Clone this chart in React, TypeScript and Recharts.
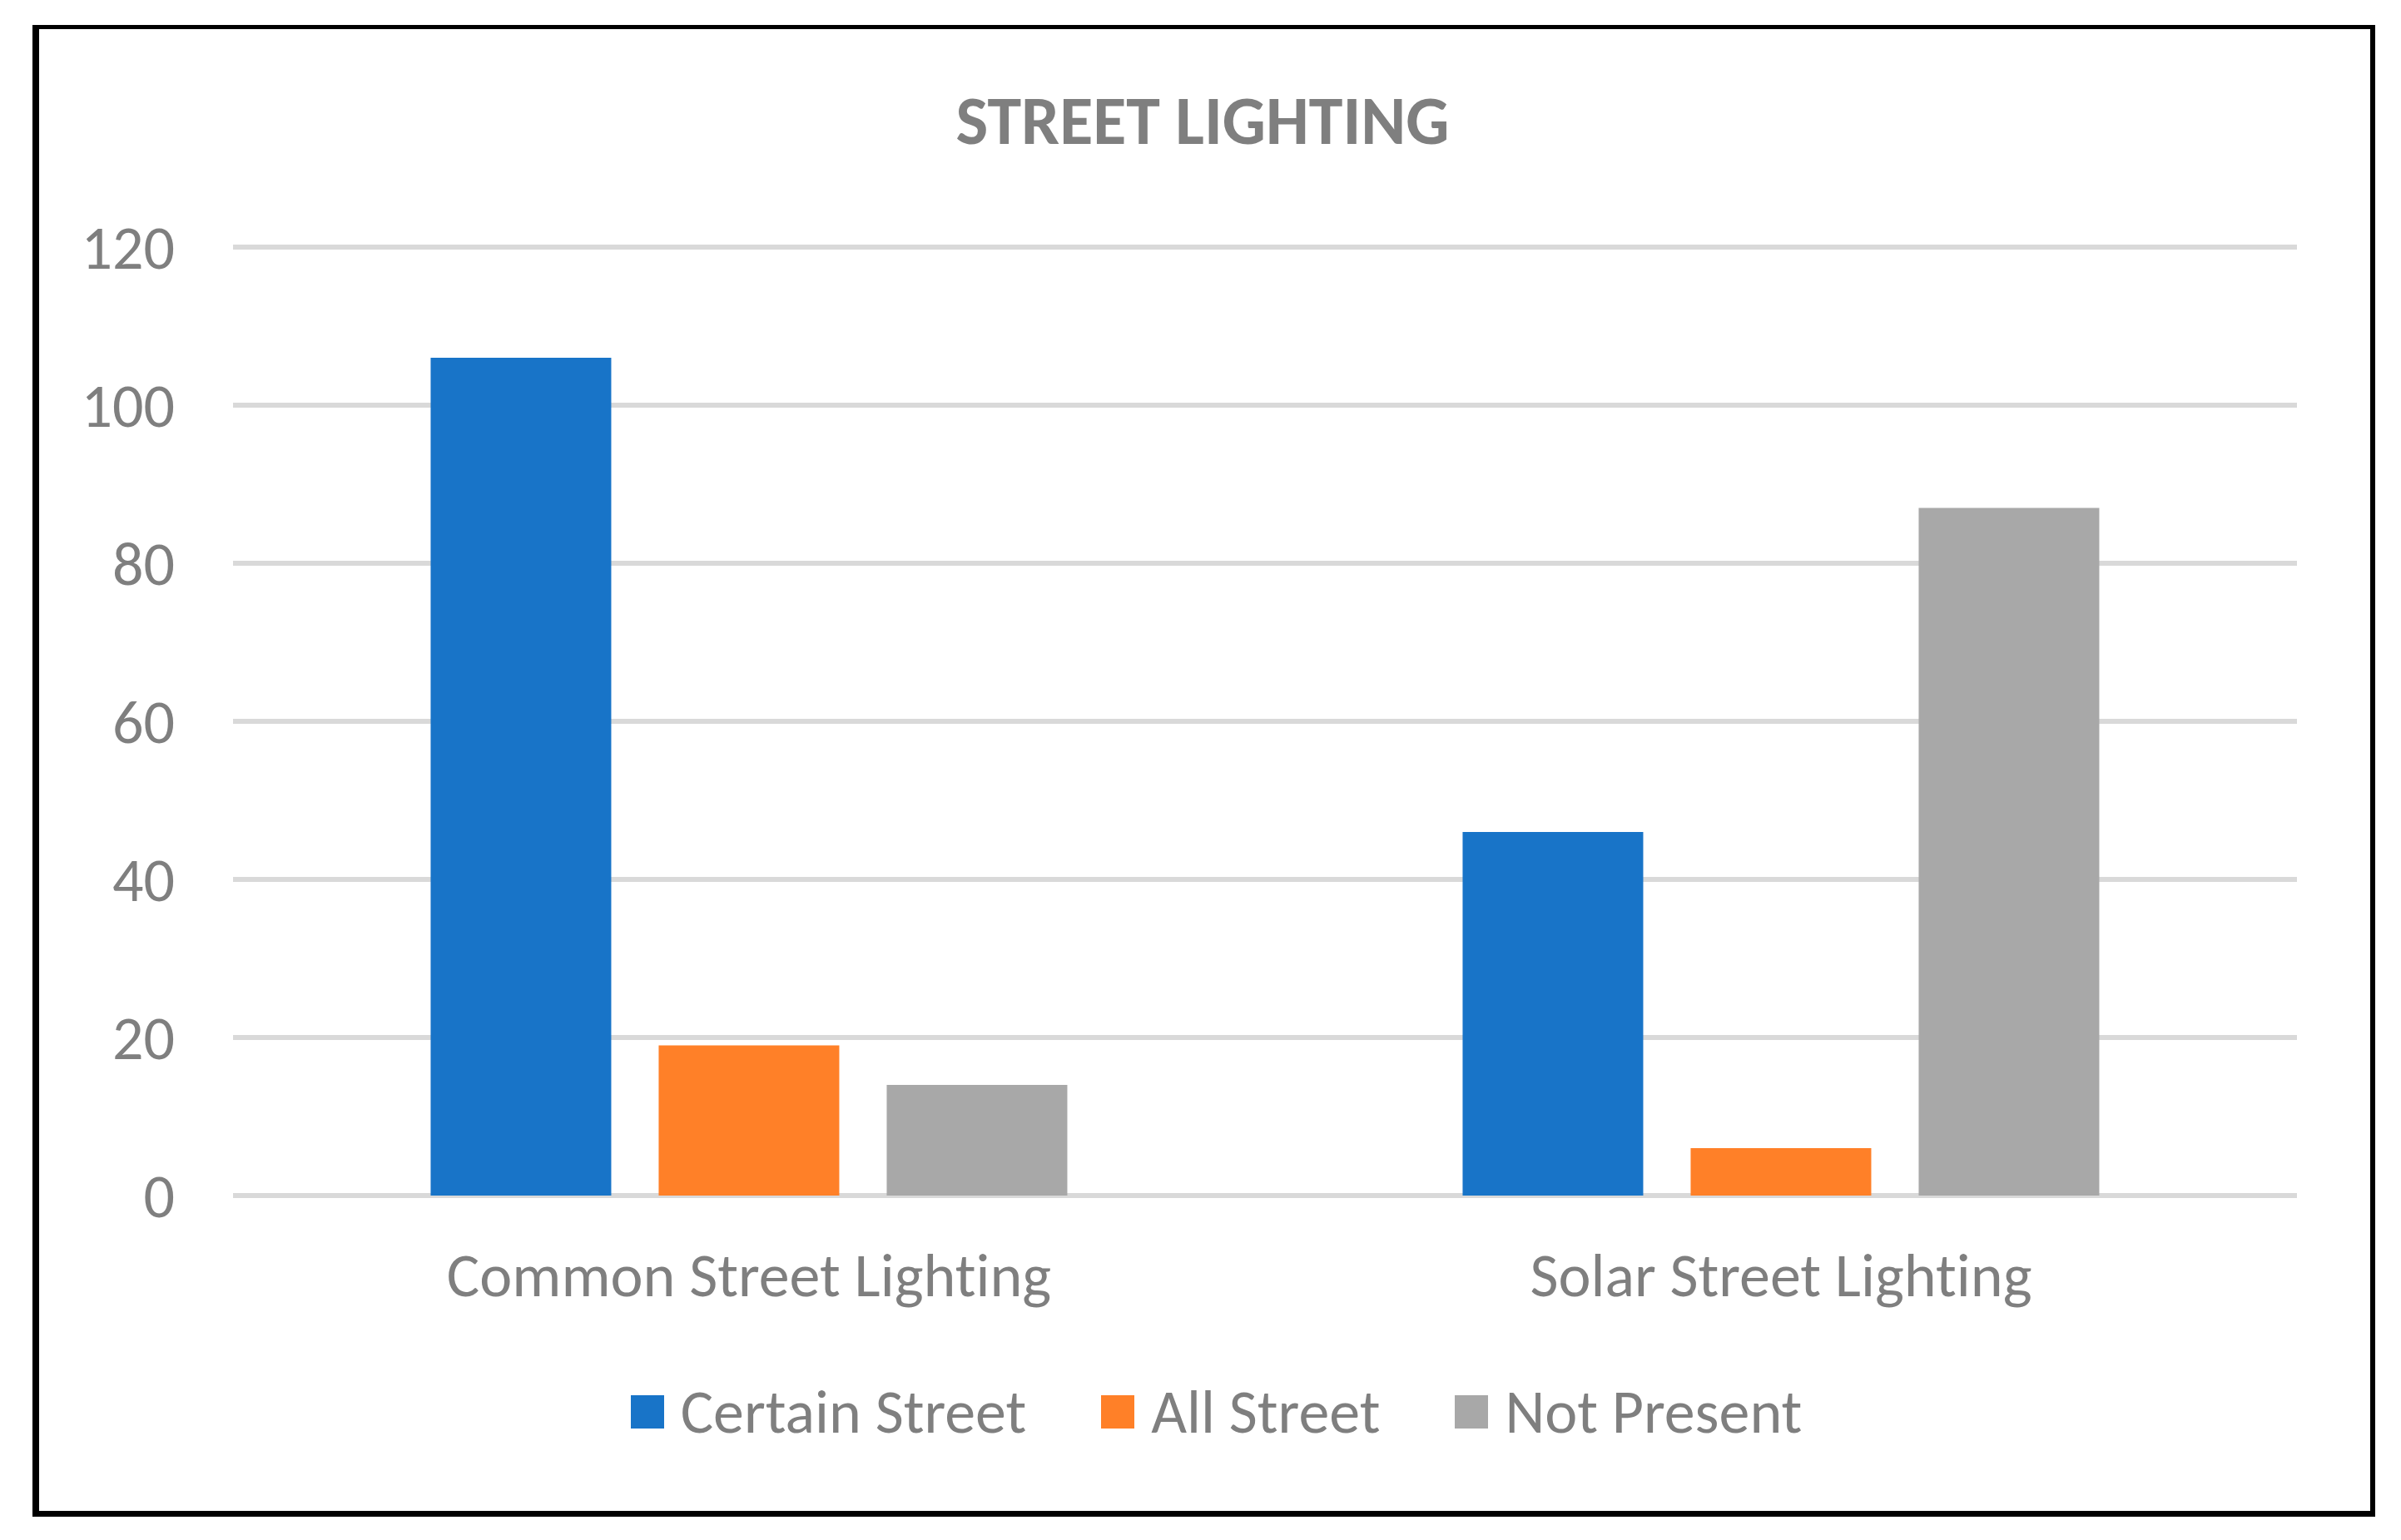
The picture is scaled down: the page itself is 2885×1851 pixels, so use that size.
import React from "react";
import { Bar, BarChart, CartesianGrid, Legend, XAxis, YAxis } from "recharts";

const CATEGORIES = ["Common Street Lighting", "Solar Street Lighting"];
const CERTAIN_STREET = [106, 46];
const ALL_STREET = [19, 6];
const NOT_PRESENT = [14, 87];
const Y_TICKS = [0, 20, 40, 60, 80, 100, 120];

const SERIES = [
	{ key: "certain", name: "Certain Street", color: "#1874C8" },
	{ key: "all", name: "All Street", color: "#FF8028" },
	{ key: "none", name: "Not Present", color: "#A8A8A8" },
];

const data = CATEGORIES.map((name, i) => ({
	name,
	certain: CERTAIN_STREET[i],
	all: ALL_STREET[i],
	none: NOT_PRESENT[i],
}));

const FONT = "Carlito, Lato, 'Open Sans', sans-serif";
const TEXT = "#7F7F7F";
const LABEL_SIZE = 74;
const W = 2885;
const H = 1851;

const CategoryTick = ({ x, y, payload }: any) => (
	<text
		x={x}
		y={y + 121}
		textAnchor="middle"
		fill={TEXT}
		fontSize={LABEL_SIZE}
		fontFamily={FONT}
		style={{ fontVariantLigatures: "none" }}
	>
		{payload.value}
	</text>
);

const LegendContent = () => (
	<div
		style={{
			display: "flex",
			justifyContent: "center",
			alignItems: "center",
			height: 74,
			fontFamily: FONT,
			fontSize: LABEL_SIZE,
			color: TEXT,
			gap: 90,
			paddingLeft: 38,
			fontVariantLigatures: "none",
		}}
	>
		{SERIES.map((s) => (
			<div key={s.key} style={{ display: "flex", alignItems: "center" }}>
				<span
					style={{
						width: 40,
						height: 40,
						background: s.color,
						display: "inline-block",
						marginRight: 20,
					}}
				/>
				<span>{s.name}</span>
			</div>
		))}
	</div>
);

export default function App() {
	return (
		<div
			style={{
				position: "absolute",
				top: 0,
				left: 0,
				width: W,
				height: H,
				background: "#fff",
			}}
		>
			<div
				style={{
					position: "absolute",
					left: 39,
					top: 30,
					width: 2854 - 39,
					height: 1823 - 30,
					boxSizing: "border-box",
					borderStyle: "solid",
					borderColor: "#000",
					borderWidth: "5px 6px 7px 8px",
				}}
			/>
			<svg
				width={W}
				height={200}
				style={{ position: "absolute", top: 0, left: 0 }}
			>
				<text
					x={1445}
					y={173}
					textAnchor="middle"
					fill={TEXT}
					fontSize={82}
					fontWeight="bold"
					fontFamily={FONT}
				>
					STREET LIGHTING
				</text>
			</svg>
			<div style={{ position: "absolute", top: 0, left: 0 }}>
				<BarChart
					width={W}
					height={H}
					data={data}
					margin={{ top: 297, right: 125, bottom: 314, left: 80 }}
					barCategoryGap="19.15%"
					barGap={57}
				>
					<CartesianGrid
						vertical={false}
						stroke="#D9D9D9"
						strokeWidth={6}
					/>
					<XAxis
						dataKey="name"
						axisLine={false}
						tickLine={false}
						tickSize={0}
						tickMargin={0}
						height={100}
						tick={<CategoryTick />}
					/>
					<YAxis
						domain={[0, 120]}
						ticks={Y_TICKS}
						axisLine={false}
						tickLine={false}
						tickSize={0}
						tickMargin={70}
						width={200}
						tick={{ fill: TEXT, fontSize: LABEL_SIZE, fontFamily: FONT }}
					/>
					<Legend
						verticalAlign="middle"
						align="center"
						layout="horizontal"
						wrapperStyle={{ top: 1660, left: 0, width: W }}
						content={<LegendContent />}
					/>
					{SERIES.map((s) => (
						<Bar
							key={s.key}
							dataKey={s.key}
							name={s.name}
							fill={s.color}
							isAnimationActive={false}
						/>
					))}
				</BarChart>
			</div>
		</div>
	);
}
